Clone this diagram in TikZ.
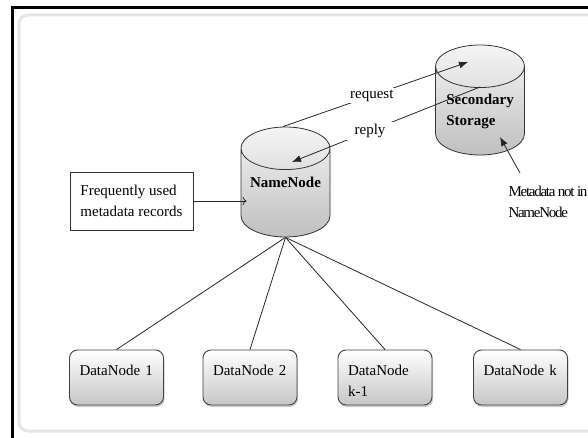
\documentclass[tikz,border=0pt]{standalone}
\usepackage{fontspec}
\setmainfont{Liberation Serif}
\newfontfamily\tightfont[LetterSpace=-8.5]{Liberation Serif}
\usetikzlibrary{shapes,arrows,arrows.meta,positioning,shadows}
\newcommand\diagfont{\fontsize{15}{21}\selectfont}

\begin{document}
\begin{tikzpicture}[
    x=1pt, y=-1pt,
    dbase/.style={cylinder, shape border rotate=90, aspect=0.48, anchor=shape center, draw=black!80, line width=0.8pt, top color=gray!8, bottom color=gray!50, text width=82pt, minimum width=89, minimum height=110},
    dbtext/.style={align=left, font=\diagfont\bfseries},
    dnode/.style={rectangle, rounded corners=8pt, draw=black!75, line width=0.9pt, top color=white, bottom color=gray!45, drop shadow={opacity=0.4, shadow xshift=1pt, shadow yshift=-2pt}, minimum width=94, inner xsep=10pt, inner ysep=0pt, text width=74pt, align=left, text height=25pt, text depth=30pt, font=\diagfont},
    note/.style={rectangle, draw=black!80, line width=0.8pt, fill=white, minimum width=123, minimum height=58, align=left, font=\diagfont},
    lbl/.style={fill=white, text=black, inner xsep=10pt, inner ysep=2pt, font=\diagfont},
    arrow/.style={-{Latex[length=9pt, width=7pt]}, black!85, line width=0.8pt},
    openarrow/.style={-{To[length=4pt, width=8pt]}, black!85, line width=0.8pt},
    link/.style={black!85, line width=0.8pt}
]
    % Canvas frame
    \useasboundingbox (0,0) rectangle (588,438);
    \draw[gray!20, line width=3pt, rounded corners=9pt] (19,15) rectangle (610,431);
    \draw[line width=3pt] (12.5,440) -- (12.5,8) -- (590,8);

    % Storage
    \node[dbase] (name) at (285.5,182) {};
    \node[dbtext] (nametext) at (name.shape center) {NameNode};
    \node[dbase] (store) at (480,100) {};
    \node[dbtext] (storetext) at ([yshift=-11]store.shape center) {Secondary\\Storage};

    % Notes
    \node[note] (freq) at (131.5,201) {Frequently used\\metadata records};
    \node[anchor=north west, align=left, font=\diagfont\tightfont] (meta) at (505,183) {Metadata not in\\NameNode};

    % Data nodes
    \node[dnode] (dn1) at (116.5,377.5) {DataNode 1};
    \node[dnode] (dn2) at (250,377.5) {DataNode 2};
    \node[dnode] (dnk1) at (385,377.5) {DataNode\\k-1};
    \node[dnode] (dnk) at (520.5,377.5) {DataNode k};

    % Arrows
    \draw[arrow] ([xshift=-2.5]name.north) -- node[lbl, pos=0.48] {request} ([shift={(-12,-38)}]store.shape center);
    \draw[arrow] ([shift={(0,-13)}]store.shape center) -- node[lbl, pos=0.585] {reply} ([shift={(6.5,-20)}]name.shape center);
    \draw[openarrow] (freq.east) -- ([xshift=6]freq.east -| name.west);
    \draw[arrow] ([shift={(15,-10)}]meta.north west) -- ([shift={(20,37)}]store.shape center);

    % Links
    \draw[link] (name.south) -- (dn1.north);
    \draw[link] (name.south) -- (dn2.north);
    \draw[link] (name.south) -- (dnk1.north);
    \draw[link] (name.south) -- (dnk.north);
\end{tikzpicture}
\end{document}
